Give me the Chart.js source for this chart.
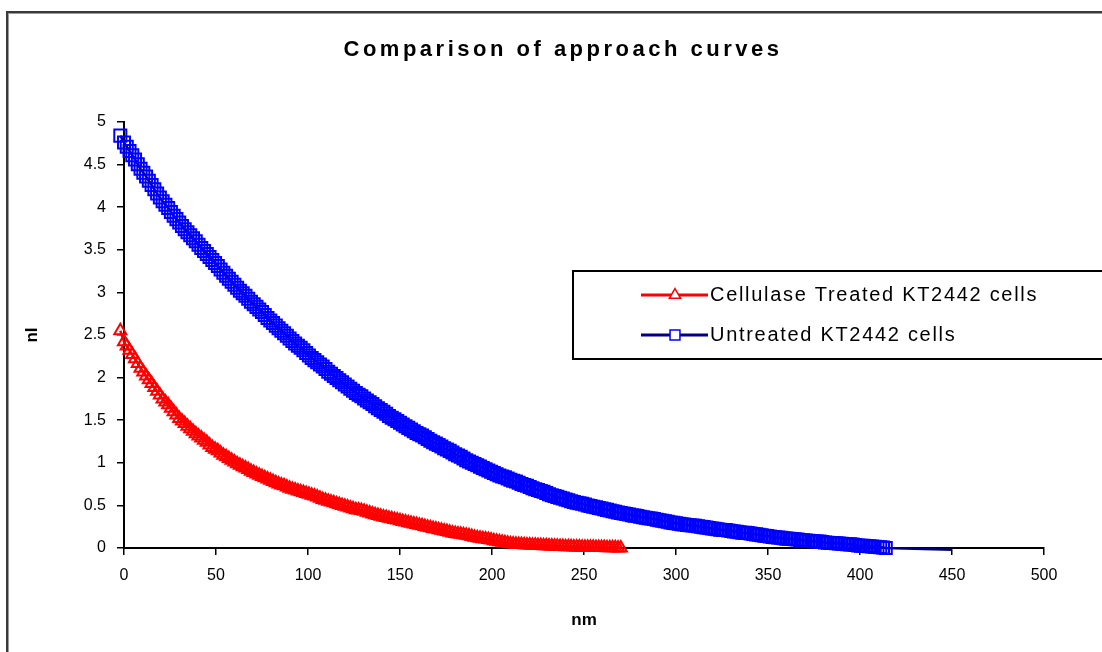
<!DOCTYPE html>
<html>
<head>
<meta charset="utf-8">
<title>Comparison of approach curves</title>
<script src="https://cdn.jsdelivr.net/npm/chart.js@4.4.1/dist/chart.umd.min.js"></script>
<style>
  html, body { margin: 0; padding: 0; background: #ffffff; }
  canvas { display: block; }
</style>
</head>
<body>
<canvas id="chart" width="1102" height="652"></canvas>
<script>
// Tip-to-substrate distance (nm) of each recorded sample
const distanceNm = [-2,
  0,1.5,3,4.5,6,7.5,9,10.5,12,13.5,
  15,16.5,18,19.5,21,22.5,24,25.5,27,28.5,
  30,31.5,33,34.5,36,37.5,39,40.5,42,43.5,
  45,46.5,48,49.5,51,52.5,54,55.5,57,58.5,
  60,61.5,63,64.5,66,67.5,69,70.5,72,73.5,
  75,76.5,78,79.5,81,82.5,84,85.5,87,88.5,
  90,91.5,93,94.5,96,97.5,99,100.5,102,103.5,
  105,106.5,108,109.5,111,112.5,114,115.5,117,118.5,
  120,121.5,123,124.5,126,127.5,129,130.5,132,133.5,
  135,136.5,138,139.5,141,142.5,144,145.5,147,148.5,
  150,151.5,153,154.5,156,157.5,159,160.5,162,163.5,
  165,166.5,168,169.5,171,172.5,174,175.5,177,178.5,
  180,181.5,183,184.5,186,187.5,189,190.5,192,193.5,
  195,196.5,198,199.5,201,202.5,204,205.5,207,208.5,
  210,211.5,213,214.5,216,217.5,219,220.5,222,223.5,
  225,226.5,228,229.5,231,232.5,234,235.5,237,238.5,
  240,241.5,243,244.5,246,247.5,249,250.5,252,253.5,
  255,256.5,258,259.5,261,262.5,264,265.5,267,268.5,
  270,271.5,273,274.5,276,277.5,279,280.5,282,283.5,
  285,286.5,288,289.5,291,292.5,294,295.5,297,298.5,
  300,301.5,303,304.5,306,307.5,309,310.5,312,313.5,
  315,316.5,318,319.5,321,322.5,324,325.5,327,328.5,
  330,331.5,333,334.5,336,337.5,339,340.5,342,343.5,
  345,346.5,348,349.5,351,352.5,354,355.5,357,358.5,
  360,361.5,363,364.5,366,367.5,369,370.5,372,373.5,
  375,376.5,378,379.5,381,382.5,384,385.5,387,388.5,
  390,391.5,393,394.5,396,397.5,399,400.5,402,403.5,
  405,406.5,408,409.5,411,412.5,414];

// Normalised current, untreated KT2442 cells
const untreatedCurrent = [4.84,
  4.76,4.71,4.66,4.61,4.56,4.505,4.45,4.405,4.36,4.31,
  4.26,4.21,4.16,4.115,4.07,4.03,3.99,3.945,3.90,3.86,
  3.82,3.78,3.74,3.705,3.67,3.635,3.60,3.56,3.52,3.485,
  3.45,3.415,3.38,3.345,3.31,3.27,3.23,3.195,3.16,3.125,
  3.09,3.055,3.02,2.99,2.96,2.925,2.89,2.86,2.83,2.80,
  2.77,2.735,2.70,2.67,2.64,2.61,2.58,2.55,2.52,2.49,
  2.46,2.43,2.40,2.375,2.35,2.32,2.29,2.26,2.23,2.205,
  2.18,2.155,2.13,2.10,2.07,2.045,2.02,1.995,1.97,1.945,
  1.92,1.895,1.87,1.845,1.82,1.80,1.78,1.755,1.73,1.71,
  1.69,1.665,1.64,1.62,1.60,1.575,1.55,1.53,1.51,1.49,
  1.47,1.45,1.43,1.41,1.39,1.37,1.35,1.335,1.32,1.30,
  1.28,1.26,1.24,1.225,1.21,1.19,1.17,1.155,1.14,1.12,
  1.10,1.085,1.07,1.05,1.03,1.015,1.00,0.985,0.97,0.955,
  0.94,0.925,0.91,0.895,0.88,0.865,0.85,0.84,0.83,0.815,
  0.80,0.79,0.78,0.765,0.75,0.74,0.73,0.715,0.70,0.69,
  0.68,0.67,0.66,0.645,0.63,0.62,0.61,0.60,0.59,0.58,
  0.57,0.56,0.55,0.54,0.53,0.525,0.52,0.51,0.50,0.4925,
  0.485,0.4775,0.47,0.4625,0.455,0.4475,0.44,0.4325,0.425,0.4175,
  0.41,0.405,0.40,0.3925,0.385,0.38,0.375,0.3675,0.36,0.355,
  0.35,0.345,0.34,0.3325,0.325,0.32,0.315,0.3075,0.30,0.295,
  0.29,0.285,0.28,0.275,0.27,0.2675,0.265,0.26,0.255,0.25,
  0.245,0.24,0.235,0.23,0.225,0.22,0.215,0.2125,0.21,0.205,
  0.20,0.195,0.19,0.185,0.18,0.1775,0.175,0.17,0.165,0.16,
  0.155,0.15,0.145,0.14,0.135,0.13,0.125,0.1225,0.12,0.115,
  0.11,0.1075,0.105,0.1025,0.10,0.095,0.09,0.0875,0.085,0.0825,
  0.08,0.0775,0.075,0.07,0.065,0.0625,0.06,0.0575,0.055,0.0525,
  0.05,0.0475,0.045,0.0425,0.04,0.035,0.03,0.0275,0.025,0.0225,
  0.02,0.0175,0.015,0.0125,0.01,0.005,0.0];

// Trailing samples of the untreated trace (line only, no markers)
const untreatedTailNm = [450];
const untreatedTailCurrent = [-0.02];

// Normalised current, cellulase treated KT2442 cells
const treatedCurrent = [2.55,
  2.42,2.37,2.32,2.27,2.22,2.165,2.11,2.065,2.02,1.975,
  1.93,1.885,1.84,1.795,1.75,1.715,1.68,1.64,1.60,1.56,
  1.52,1.49,1.46,1.43,1.40,1.37,1.34,1.315,1.29,1.265,
  1.24,1.21,1.18,1.16,1.14,1.115,1.09,1.07,1.05,1.03,
  1.01,0.99,0.97,0.955,0.94,0.92,0.90,0.885,0.87,0.855,
  0.84,0.825,0.81,0.795,0.78,0.765,0.75,0.74,0.73,0.715,
  0.70,0.69,0.68,0.67,0.66,0.65,0.64,0.63,0.62,0.61,
  0.60,0.585,0.57,0.56,0.55,0.54,0.53,0.52,0.51,0.50,
  0.49,0.48,0.47,0.46,0.45,0.445,0.44,0.43,0.42,0.41,
  0.40,0.39,0.38,0.3725,0.365,0.3575,0.35,0.3425,0.335,0.3275,
  0.32,0.3125,0.305,0.2975,0.29,0.2825,0.275,0.2675,0.26,0.2525,
  0.245,0.2375,0.23,0.2225,0.215,0.2075,0.20,0.1925,0.185,0.1775,
  0.17,0.165,0.16,0.155,0.15,0.1425,0.135,0.1275,0.12,0.115,
  0.11,0.105,0.10,0.093,0.086,0.08,0.074,0.068,0.062,0.056,
  0.05,0.0475,0.045,0.0425,0.04,0.038,0.036,0.0345,0.033,0.0315,
  0.03,0.0285,0.027,0.0255,0.024,0.0225,0.021,0.0195,0.018,0.0165,
  0.015,0.0145,0.014,0.013,0.012,0.011,0.01,0.0095,0.009,0.0085,
  0.008,0.007,0.006,0.0055,0.005,0.004,0.003,0.0025,0.002,0.001,
  0.0];

const seriesNames = ['Cellulase Treated KT2442 cells', 'Untreated KT2442 cells'];
const xTicks = [0, 50, 100, 150, 200, 250, 300, 350, 400, 450, 500];
const yTicks = [0, 0.5, 1, 1.5, 2, 2.5, 3, 3.5, 4, 4.5, 5];
const chartTitle = 'Comparison of approach curves';
const xTitle = 'nm';
const yTitle = 'nI';

function toPoints(xs, ys) {
  return ys.map((y, i) => ({ x: xs[i], y: y }));
}

const SQUARE_R = 8.5;
const TRIANGLE_R = 7;

const treatedPoints = toPoints(distanceNm, treatedCurrent);
const untreatedPoints = toPoints(distanceNm, untreatedCurrent)
  .concat(toPoints(untreatedTailNm, untreatedTailCurrent));
const untreatedRadius = untreatedPoints.map((p, i) => i < untreatedCurrent.length ? SQUARE_R : 0);

const FONT = "'Liberation Sans', Arial, sans-serif";

// White page with the dark frame along the top and left edges
const framePlugin = {
  id: 'frame',
  beforeDraw(chart) {
    const ctx = chart.ctx;
    ctx.save();
    ctx.fillStyle = '#ffffff';
    ctx.fillRect(0, 0, chart.width, chart.height);
    ctx.fillStyle = '#3a3a3a';
    ctx.fillRect(6, 11, chart.width, 2);
    ctx.fillRect(6, 11, 2, chart.height);
    ctx.fillStyle = '#9a9a9a';
    ctx.fillRect(8, 13, chart.width, 1);
    ctx.fillRect(8, 13, 1, chart.height);
    ctx.restore();
  }
};

// Spaced-out heading above the plot
const headingPlugin = {
  id: 'heading',
  afterDraw(chart) {
    const ctx = chart.ctx;
    ctx.save();
    ctx.font = 'bold 22px ' + FONT;
    ctx.letterSpacing = '3.5px';
    ctx.fillStyle = '#000000';
    ctx.textAlign = 'center';
    ctx.textBaseline = 'middle';
    ctx.fillText(chartTitle, 563, 50);
    ctx.restore();
  }
};

// Boxed legend sitting to the right inside the plot
const boxLegendPlugin = {
  id: 'boxLegend',
  afterDraw(chart) {
    const ctx = chart.ctx;
    const box = { left: 573, top: 271, width: 560, height: 88 };
    ctx.save();
    ctx.fillStyle = '#ffffff';
    ctx.fillRect(box.left, box.top, box.width, box.height);
    ctx.strokeStyle = '#000000';
    ctx.lineWidth = 2;
    ctx.strokeRect(box.left, box.top, box.width, box.height);
    const rows = [295, 335];
    chart.data.datasets.forEach((ds, i) => {
      const y = rows[i];
      ctx.strokeStyle = ds.borderColor;
      ctx.lineWidth = 3;
      ctx.beginPath();
      ctx.moveTo(641, y);
      ctx.lineTo(708, y);
      ctx.stroke();
      ctx.strokeStyle = ds.pointBorderColor;
      ctx.fillStyle = '#ffffff';
      ctx.lineWidth = 1.5;
      Chart.helpers.drawPoint(ctx, {
        pointStyle: ds.pointStyle,
        radius: ds.pointStyle === 'rect' ? 7 : 6.5,
        borderWidth: 1.5,
        rotation: 0
      }, 675, y);
      ctx.font = '20px ' + FONT;
      ctx.letterSpacing = '1.7px';
      ctx.fillStyle = '#000000';
      ctx.textAlign = 'left';
      ctx.textBaseline = 'middle';
      ctx.fillText(ds.label, 710, y);
    });
    ctx.restore();
  }
};

new Chart(document.getElementById('chart'), {
  type: 'line',
  data: {
    datasets: [
      {
        label: seriesNames[0],
        data: treatedPoints,
        borderColor: '#ff0000',
        borderWidth: 2.5,
        pointStyle: 'triangle',
        pointRadius: TRIANGLE_R,
        pointBorderColor: '#ff0000',
        pointBackgroundColor: 'rgba(0,0,0,0)',
        pointBorderWidth: 2,
        tension: 0,
        clip: false,
        order: 1
      },
      {
        label: seriesNames[1],
        data: untreatedPoints,
        borderColor: '#000080',
        borderWidth: 2.5,
        pointStyle: 'rect',
        pointRadius: untreatedRadius,
        pointBorderColor: '#0000ff',
        pointBackgroundColor: 'rgba(0,0,0,0)',
        pointBorderWidth: 2,
        tension: 0,
        clip: false,
        order: 2
      }
    ]
  },
  options: {
    responsive: false,
    devicePixelRatio: 1,
    animation: false,
    layout: { padding: { left: 0, top: 122, right: 58, bottom: 0 } },
    plugins: {
      legend: { display: false },
      title: { display: false },
      tooltip: { enabled: false }
    },
    scales: {
      x: {
        type: 'linear',
        min: 0,
        max: 500,
        afterFit(scale) { scale.height = 104; },
        afterBuildTicks(scale) { scale.ticks = xTicks.map(v => ({ value: v })); },
        ticks: {
          color: '#000000',
          font: { family: FONT, size: 16 },
          padding: 11,
          maxRotation: 0,
          autoSkip: false,
          callback: (v) => String(v)
        },
        grid: {
          display: true,
          drawOnChartArea: false,
          drawTicks: true,
          tickLength: 7,
          color: '#000000',
          lineWidth: 1.5
        },
        border: { display: true, color: '#000000', width: 2 },
        title: {
          display: true,
          text: xTitle,
          color: '#000000',
          font: { family: FONT, size: 17, weight: 'bold' },
          padding: { top: 0, bottom: 21 }
        }
      },
      y: {
        type: 'linear',
        min: 0,
        max: 5,
        afterFit(scale) { scale.width = 124; },
        afterBuildTicks(scale) { scale.ticks = yTicks.map(v => ({ value: v })); },
        ticks: {
          color: '#000000',
          font: { family: FONT, size: 16 },
          padding: 11,
          autoSkip: false,
          callback: (v) => String(v)
        },
        grid: {
          display: true,
          drawOnChartArea: false,
          drawTicks: true,
          tickLength: 7,
          color: '#000000',
          lineWidth: 1.5
        },
        border: { display: true, color: '#000000', width: 2 },
        title: {
          display: true,
          text: yTitle,
          color: '#000000',
          font: { family: FONT, size: 17, weight: 'bold' },
          padding: { top: 22, bottom: 0 }
        }
      }
    }
  },
  plugins: [framePlugin, headingPlugin, boxLegendPlugin]
});
</script>
</body>
</html>
